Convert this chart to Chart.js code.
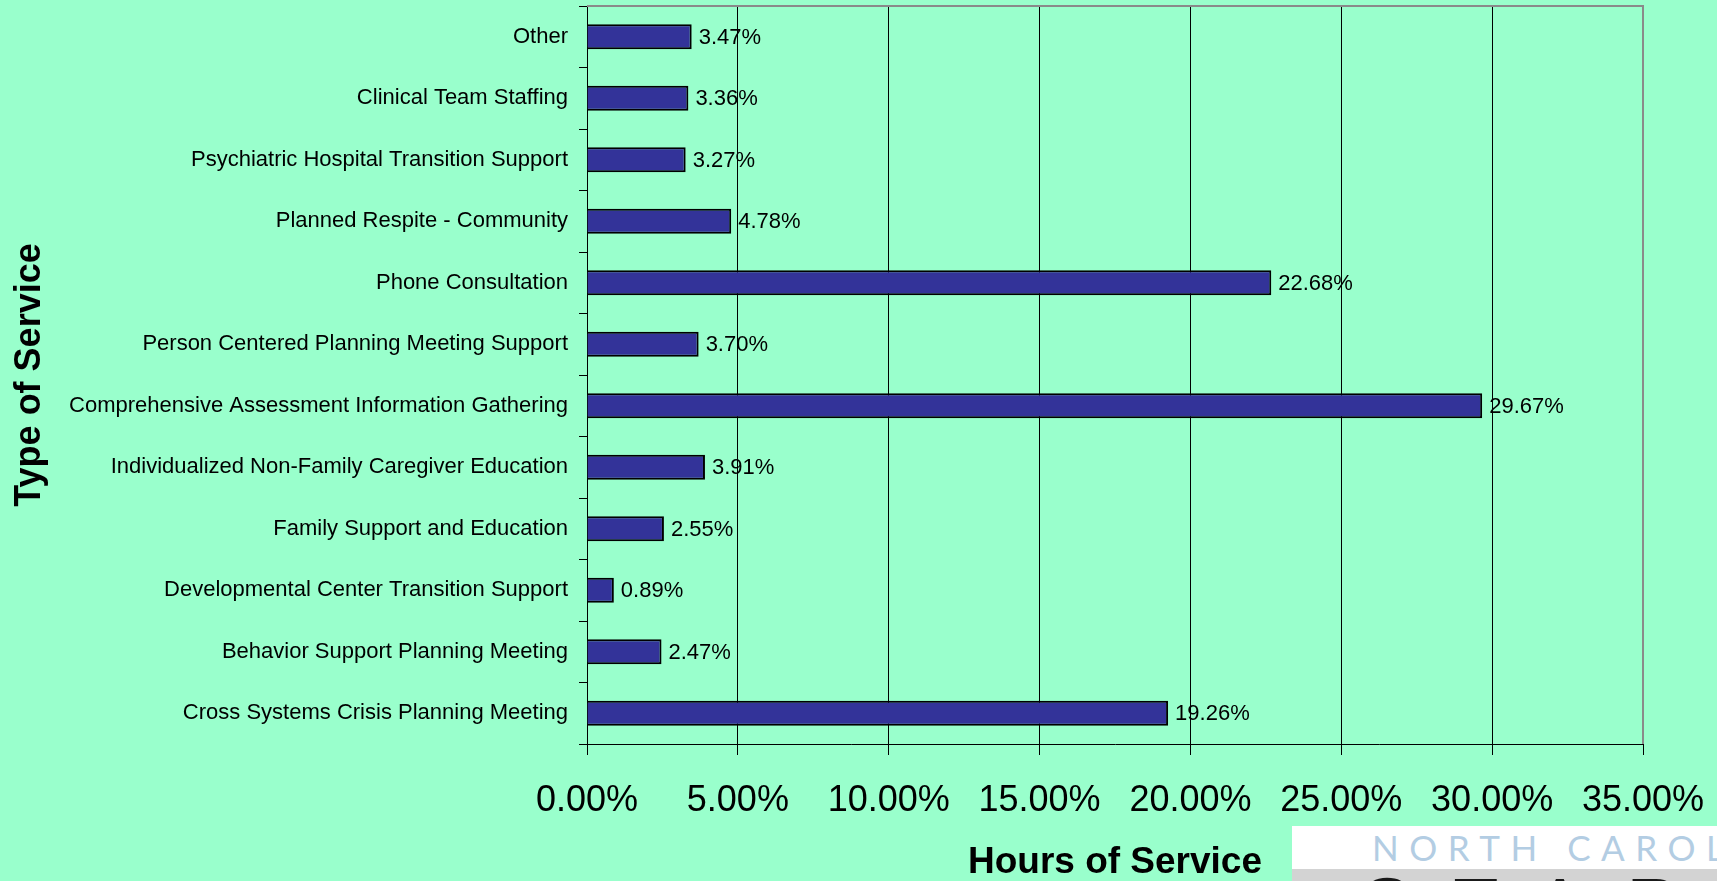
<!DOCTYPE html>
<html>
<head>
<meta charset="utf-8">
<title>Type of Service – Hours of Service</title>
<script src="https://cdn.jsdelivr.net/npm/chart.js@4/dist/chart.umd.min.js"></script>
<style>
  html, body { margin: 0; padding: 0; background: #99FFCC; overflow: hidden; }
  #wrap { position: relative; width: 1717px; height: 881px; }
  #chart { position: absolute; left: 0; top: 0; }
  #logo { position: absolute; left: 1292px; top: 826px; width: 425px; height: 55px; background: #ffffff; overflow: hidden; }
  #logo .state { position: absolute; left: 80px; top: 1px; white-space: nowrap; font-family: Lato, "Open Sans", sans-serif; font-weight: 400; font-size: 35px; line-height: 40px; letter-spacing: 10.5px; color: #b3cde3; }
  #logo .band { position: absolute; left: 0; top: 43px; width: 100%; height: 20px; background: #d3d3d3; overflow: hidden; }
  #logo .name { position: absolute; left: 70px; top: -4px; white-space: nowrap; font-family: "Liberation Sans", Arial, sans-serif; font-size: 74px; line-height: 80px; letter-spacing: 42px; color: #1a1a1a; }
</style>
</head>
<body>
<div id="wrap">
  <canvas id="chart" width="1717" height="881"></canvas>
  <div id="logo">
    <div class="state">NORTH CAROLINA</div>
    <div class="band"><div class="name">START</div></div>
  </div>
</div>
<script>
// Service categories, listed top to bottom
const categories = [
  'Other',
  'Clinical Team Staffing',
  'Psychiatric Hospital Transition Support',
  'Planned Respite - Community',
  'Phone Consultation',
  'Person Centered Planning Meeting Support',
  'Comprehensive Assessment Information Gathering',
  'Individualized Non-Family Caregiver Education',
  'Family Support and Education',
  'Developmental Center Transition Support',
  'Behavior Support Planning Meeting',
  'Cross Systems Crisis Planning Meeting'
];

// Share of hours of service, in percent
const hoursShare = [3.47, 3.36, 3.27, 4.78, 22.68, 3.70, 29.67, 3.91, 2.55, 0.89, 2.47, 19.26];

// Axis range and tick step, in percent
const axisMin = 0;
const axisMax = 35;
const axisStep = 5;

const FONT = '"Liberation Sans", Arial, Helvetica, sans-serif';

// Writes each bar's value just past its end
const valueLabels = {
  id: 'valueLabels',
  afterDatasetsDraw(chart) {
    const ctx = chart.ctx;
    const meta = chart.getDatasetMeta(0);
    ctx.save();
    ctx.font = '22px ' + FONT;
    ctx.fillStyle = '#000000';
    ctx.textAlign = 'left';
    ctx.textBaseline = 'middle';
    meta.data.forEach((bar, i) => {
      const v = chart.data.datasets[0].data[i];
      ctx.fillText(v.toFixed(2) + '%', bar.x + 7, bar.y + 1);
    });
    ctx.restore();
  }
};

// Grey frame along the top and right of the plot area
const plotFrame = {
  id: 'plotFrame',
  beforeDatasetsDraw(chart) {
    const { ctx, chartArea: a } = chart;
    ctx.save();
    ctx.strokeStyle = '#8a8a8a';
    ctx.lineWidth = 2;
    ctx.beginPath();
    ctx.moveTo(a.left, a.top);
    ctx.lineTo(a.right, a.top);
    ctx.lineTo(a.right, a.bottom);
    ctx.stroke();
    ctx.restore();
  }
};

new Chart(document.getElementById('chart'), {
  type: 'bar',
  data: {
    labels: categories,
    datasets: [{
      data: hoursShare,
      backgroundColor: '#333399',
      borderColor: '#000000',
      borderWidth: 2,
      borderSkipped: 'start',
      barPercentage: 0.41,
      categoryPercentage: 1
    }]
  },
  options: {
    indexAxis: 'y',
    responsive: false,
    animation: false,
    devicePixelRatio: 1,
    layout: { padding: { top: 6, right: 74, left: 0, bottom: 0 } },
    plugins: {
      legend: { display: false },
      tooltip: { enabled: false }
    },
    scales: {
      x: {
        type: 'linear',
        min: axisMin,
        max: axisMax,
        afterFit(scale) {
          scale.height = 137;
          scale.paddingLeft = 0;
          scale.paddingRight = 0;
        },
        ticks: {
          stepSize: axisStep,
          padding: 24,
          color: '#000000',
          font: { family: FONT, size: 36 },
          maxRotation: 0,
          callback: (v) => Number(v).toFixed(2) + '%'
        },
        grid: {
          color: '#000000',
          lineWidth: 1,
          tickLength: 11,
          drawTicks: true
        },
        border: { display: true, color: '#000000', width: 1 },
        title: {
          display: true,
          text: 'Hours of Service',
          color: '#000000',
          font: { family: FONT, size: 37, weight: 'bold', lineHeight: 1 },
          padding: { top: 0, bottom: 0 }
        }
      },
      y: {
        type: 'category',
        afterFit(scale) {
          scale.width = 587;
          scale.paddingTop = 0;
          scale.paddingBottom = 0;
        },
        ticks: {
          padding: 11,
          color: '#000000',
          font: { family: FONT, size: 22 }
        },
        grid: {
          offset: true,
          drawOnChartArea: false,
          drawTicks: true,
          tickLength: 8,
          color: '#000000'
        },
        border: { display: true, color: '#000000', width: 1 },
        title: {
          display: true,
          text: 'Type of Service',
          color: '#000000',
          font: { family: FONT, size: 36, weight: 'bold', lineHeight: 1 },
          padding: { top: 12, bottom: 0 }
        }
      }
    }
  },
  plugins: [plotFrame, valueLabels]
});
</script>
</body>
</html>
